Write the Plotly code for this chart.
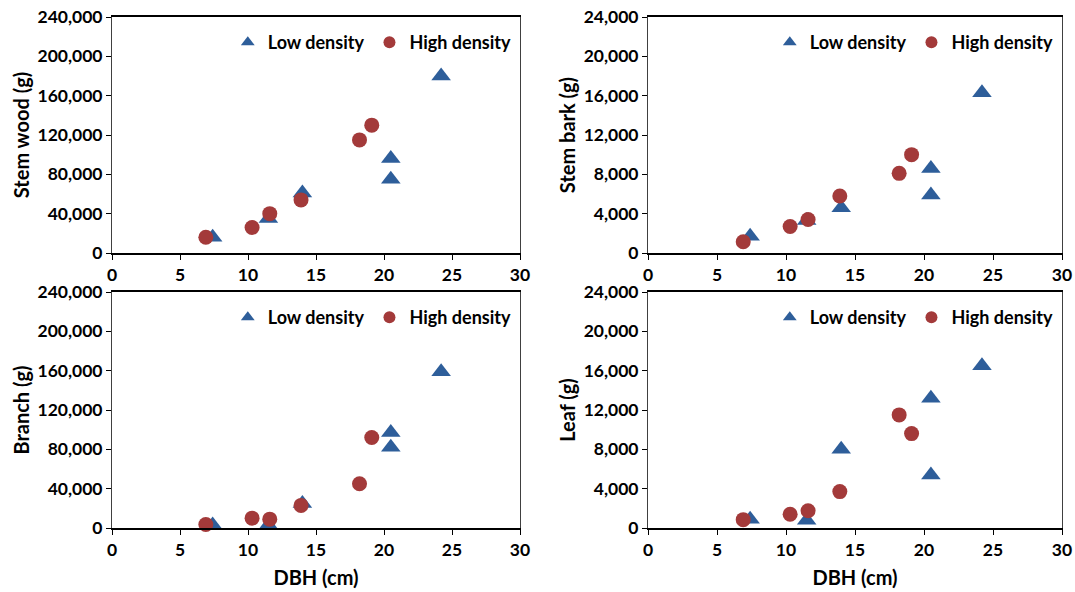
import plotly.graph_objects as go

# DBH (cm)
low_dbh = [7.4, 11.5, 14.0, 20.5, 20.5, 24.2]
high_dbh = [6.9, 10.3, 11.6, 13.9, 18.2, 19.1]

# Biomass (g)
stem_wood_low = [16000, 35000, 61000, 96000, 75000, 180000]
stem_wood_high = [16000, 26000, 40000, 54000, 115000, 130000]
stem_bark_low = [1700, 3300, 4600, 8600, 5900, 16300]
stem_bark_high = [1150, 2700, 3400, 5800, 8100, 10000]
branch_low = [3000, 3000, 25000, 97000, 82000, 159000]
branch_high = [3500, 10000, 9000, 23000, 45000, 92000]
leaf_low = [900, 800, 8000, 13200, 5400, 16500]
leaf_high = [850, 1400, 1750, 3700, 11500, 9600]

panels = [
    ("Stem wood (g)", stem_wood_low, stem_wood_high, 240000, 40000),
    ("Stem bark (g)", stem_bark_low, stem_bark_high, 24000, 4000),
    ("Branch (g)", branch_low, branch_high, 240000, 40000),
    ("Leaf (g)", leaf_low, leaf_high, 24000, 4000),
]

W, H = 1075, 592
xdoms = [[112 / W, 520 / W], [648 / W, 1062 / W]]
ydoms = [[1 - 253 / H, 1 - 17 / H], [1 - 528 / H, 1 - 292 / H]]

BLUE = "#2E5E9A"
RED = "#A33A3A"
FONT = "Lato"

fig = go.Figure()
layout = dict(
    width=W, height=H,
    margin=dict(l=0, r=0, t=0, b=0, autoexpand=False),
    paper_bgcolor="white", plot_bgcolor="white",
    font=dict(family=FONT, color="black"),
    hovermode=False,
)

for i, (title, low, high, ymax, dy) in enumerate(panels):
    row, col = divmod(i, 2)
    n = i + 1
    xa = "xaxis" if n == 1 else f"xaxis{n}"
    ya = "yaxis" if n == 1 else f"yaxis{n}"
    xref = "x" if n == 1 else f"x{n}"
    yref = "y" if n == 1 else f"y{n}"
    lg = "legend" if n == 1 else f"legend{n}"
    fig.add_trace(go.Scatter(
        x=low_dbh, y=low, mode="markers", name="Low density",
        marker=dict(symbol="triangle-up", size=17, color=BLUE),
        xaxis=xref, yaxis=yref, legend=lg, cliponaxis=False))
    fig.add_trace(go.Scatter(
        x=high_dbh, y=high, mode="markers", name="High density",
        marker=dict(symbol="circle", size=15, color=RED),
        xaxis=xref, yaxis=yref, legend=lg, cliponaxis=False))
    layout[xa] = dict(
        domain=xdoms[col], anchor=yref, range=[0, 30], dtick=5,
        automargin=False,
        showgrid=False, zeroline=False, showline=True, linecolor="black",
        linewidth=1.5, mirror=True, ticks="outside", ticklen=5, tickcolor="black",
        tickfont=dict(size=17.5, weight="bold"),
        title=dict(text="<b>DBH (cm)</b>" if row == 1 else "", font=dict(size=20), standoff=12),
    )
    layout[ya] = dict(
        domain=ydoms[row], anchor=xref, range=[0, ymax], dtick=dy,
        automargin=False,
        tickformat=",", showgrid=False, zeroline=False, showline=True,
        linecolor="#404040", linewidth=1, mirror=True, ticks="outside",
        ticklen=5, tickcolor="black",
        tickfont=dict(size=17.5, weight="bold"),
        title=dict(text=f"<b>{title}</b>", font=dict(size=20), standoff=2),
    )
    xd = xdoms[col]
    yd = ydoms[row]
    layout[lg] = dict(
        orientation="h", x=xd[1] - 0.003, xanchor="right",
        y=yd[1] - 0.012, yanchor="top",
        bgcolor="rgba(0,0,0,0)", font=dict(size=18, weight="bold"),
        itemsizing="constant", itemwidth=30, tracegroupgap=0,
    )

fig.update_layout(**layout)
fig.write_html("out.html", config={"displayModeBar": False},
               post_script="document.body.style.margin='0px';")
